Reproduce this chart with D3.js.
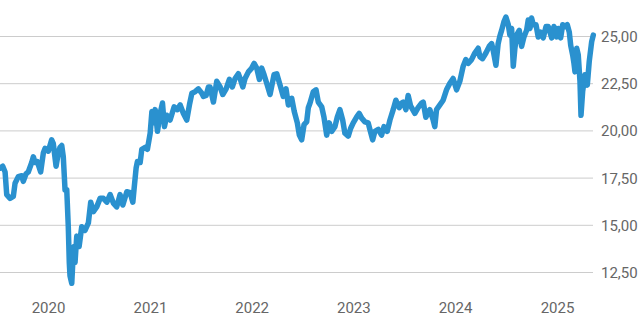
<!DOCTYPE html>
<html>
<head>
<meta charset="utf-8">
<script src="https://cdn.jsdelivr.net/npm/d3@7"></script>
<style>
  html, body { margin: 0; padding: 0; background: #fff; }
  svg { display: block; font-family: Roboto, "Noto Sans", sans-serif; }
</style>
</head>
<body>
<svg id="chart" width="640" height="320"></svg>
<script>
// Time as decimal year, price values
const times = [
  2019.529, 2019.555, 2019.578, 2019.594, 2019.627, 2019.659, 2019.676, 2019.708, 2019.742, 2019.757,
  2019.784, 2019.806, 2019.840, 2019.856, 2019.872, 2019.895, 2019.928, 2019.954, 2019.971, 2020.003,
  2020.036, 2020.052, 2020.079, 2020.101, 2020.118, 2020.135, 2020.150, 2020.167, 2020.184, 2020.199,
  2020.209, 2020.216, 2020.233, 2020.243, 2020.255, 2020.265, 2020.282, 2020.305, 2020.331, 2020.363,
  2020.396, 2020.419, 2020.445, 2020.478, 2020.511, 2020.543, 2020.577, 2020.609, 2020.641, 2020.674,
  2020.707, 2020.734, 2020.773, 2020.806, 2020.832, 2020.845, 2020.864, 2020.877, 2020.904, 2020.920,
  2020.953, 2020.975, 2021.002, 2021.019, 2021.034, 2021.051, 2021.074, 2021.100, 2021.123, 2021.142,
  2021.166, 2021.198, 2021.238, 2021.270, 2021.297, 2021.329, 2021.362, 2021.388, 2021.412, 2021.444,
  2021.476, 2021.510, 2021.526, 2021.552, 2021.575, 2021.591, 2021.624, 2021.657, 2021.690, 2021.716,
  2021.749, 2021.781, 2021.810, 2021.837, 2021.869, 2021.886, 2021.913, 2021.935, 2021.968, 2022.001,
  2022.024, 2022.050, 2022.076, 2022.099, 2022.122, 2022.148, 2022.181, 2022.220, 2022.247, 2022.279,
  2022.311, 2022.338, 2022.361, 2022.394, 2022.419, 2022.449, 2022.469, 2022.492, 2022.515, 2022.541,
  2022.557, 2022.574, 2022.606, 2022.633, 2022.655, 2022.689, 2022.711, 2022.738, 2022.763, 2022.787,
  2022.819, 2022.842, 2022.868, 2022.895, 2022.917, 2022.950, 2022.973, 2022.999, 2023.032, 2023.058,
  2023.082, 2023.114, 2023.146, 2023.163, 2023.190, 2023.212, 2023.245, 2023.278, 2023.301, 2023.333,
  2023.360, 2023.392, 2023.418, 2023.451, 2023.474, 2023.490, 2023.517, 2023.539, 2023.563, 2023.605,
  2023.637, 2023.671, 2023.687, 2023.713, 2023.752, 2023.785, 2023.801, 2023.818, 2023.851, 2023.883,
  2023.916, 2023.949, 2023.981, 2024.015, 2024.047, 2024.080, 2024.106, 2024.129, 2024.162, 2024.194,
  2024.227, 2024.244, 2024.270, 2024.303, 2024.335, 2024.359, 2024.374, 2024.401, 2024.423, 2024.440,
  2024.457, 2024.479, 2024.499, 2024.522, 2024.538, 2024.555, 2024.571, 2024.587, 2024.604, 2024.630,
  2024.653, 2024.676, 2024.702, 2024.718, 2024.735, 2024.751, 2024.767, 2024.794, 2024.816, 2024.840,
  2024.865, 2024.892, 2024.914, 2024.948, 2024.970, 2024.997, 2025.013, 2025.036, 2025.056, 2025.079,
  2025.101, 2025.121, 2025.135, 2025.154, 2025.167, 2025.177, 2025.194, 2025.209, 2025.226, 2025.236,
  2025.252, 2025.275, 2025.298, 2025.317, 2025.341, 2025.357
];
const prices = [
  18.0, 18.1, 17.8, 16.6, 16.4, 16.5, 17.2, 17.55, 17.6, 17.3,
  17.7, 17.8, 18.3, 18.6, 18.3, 18.35, 17.8, 18.8, 19.05, 18.9,
  19.5, 19.3, 18.1, 18.8, 19.1, 19.2, 18.6, 16.85, 16.85, 14.9,
  12.97, 12.3, 11.9, 13.0, 13.85, 13.0, 14.4, 13.85, 14.9, 14.7,
  15.1, 16.2, 15.7, 15.95, 16.4, 16.4, 16.2, 16.6, 16.15, 15.95,
  16.6, 16.05, 16.75, 16.7, 16.2, 16.95, 18.0, 18.35, 18.3, 19.0,
  19.1, 19.0, 19.85, 21.0, 20.4, 21.1, 19.95, 20.9, 21.45, 20.2,
  20.8, 20.55, 21.25, 21.1, 21.35, 20.9, 20.55, 21.35, 21.97, 22.05,
  22.2, 21.97, 21.8, 21.85, 22.3, 22.3, 21.5, 22.6, 22.3, 21.9,
  22.2, 22.7, 22.3, 22.75, 23.0, 22.75, 22.3, 22.75, 23.1, 23.3,
  23.55, 23.3, 22.7, 23.3, 22.95, 22.5, 21.9, 22.95, 23.0, 22.4,
  21.8, 22.2, 21.35, 21.7, 21.0, 20.4, 19.75, 19.5, 20.3, 20.45,
  21.2, 21.45, 22.05, 22.15, 21.5, 21.25, 20.7, 19.75, 20.4, 19.95,
  20.2, 20.7, 21.1, 20.55, 19.85, 19.7, 20.1, 20.4, 20.7, 20.9,
  20.65, 20.45, 20.4, 20.05, 19.5, 19.95, 20.05, 19.75, 20.2, 19.95,
  20.55, 21.1, 21.6, 21.2, 21.45, 21.5, 21.1, 21.85, 21.3, 20.9,
  21.2, 21.45, 21.5, 20.7, 21.1, 20.55, 20.2, 21.1, 21.35, 21.6,
  22.15, 22.5, 22.75, 22.15, 22.6, 23.4, 23.75, 23.55, 23.75, 24.1,
  24.35, 23.9, 23.8, 24.1, 24.45, 24.6, 24.25, 23.45, 24.6, 25.0,
  25.3, 25.75, 26.0, 25.6, 25.05, 25.4, 23.4, 24.35, 25.05, 25.3,
  24.45, 24.95, 25.3, 25.85, 25.4, 25.95, 25.6, 25.6, 24.95, 25.2,
  24.9, 25.5, 25.5, 24.9, 25.5, 24.95, 25.4, 24.9, 25.6, 25.5,
  25.6, 25.2, 24.5, 24.0, 23.55, 23.1, 24.35, 24.0, 22.6, 20.8,
  22.05, 22.95, 22.4, 23.65, 24.7, 25.05
];
const yTicks = [12.5, 15, 17.5, 20, 22.5, 25];
const xTickYears = [2020, 2021, 2022, 2023, 2024, 2025];

function decToDate(t) {
  const y = Math.floor(t);
  const start = new Date(y, 0, 1).getTime();
  const end = new Date(y + 1, 0, 1).getTime();
  return new Date(start + (t - y) * (end - start));
}
const data = times.map((t, i) => ({ date: decToDate(t), value: prices[i] }));

const svg = d3.select("#chart");
const plotRight = 593;

const x = d3.scaleTime()
  .domain([new Date(2020, 0, 1), new Date(2025, 0, 1)])
  .range([48, 557]);
const y = d3.scaleLinear().domain([12.5, 25]).range([272, 36]);

// Y axis with gridlines
const yAxis = d3.axisRight(y)
  .tickValues(yTicks)
  .tickSize(-plotRight)
  .tickPadding(8)
  .tickFormat(d => d3.format(".2f")(d).replace(".", ","));
const gy = svg.append("g").attr("transform", `translate(${plotRight},0)`).call(yAxis);
gy.select(".domain").remove();
gy.selectAll(".tick line").attr("stroke", "#cccccc").attr("stroke-width", 1);
gy.selectAll(".tick text").attr("fill", "#666").attr("font-size", 15)
  .attr("font-family", "Roboto, sans-serif").attr("dy", "0.36em");

// X axis
const xAxis = d3.axisBottom(x)
  .tickValues(xTickYears.map(yr => new Date(yr, 0, 1)))
  .tickSize(0)
  .tickPadding(8)
  .tickFormat(d3.timeFormat("%Y"));
const gx = svg.append("g").attr("transform", "translate(0,294)").call(xAxis);
gx.select(".domain").remove();
gx.selectAll(".tick text").attr("fill", "#666").attr("font-size", 15)
  .attr("font-family", "Roboto, sans-serif");

// Line
const line = d3.line().x(d => x(d.date)).y(d => y(d.value));
svg.append("path")
  .datum(data)
  .attr("d", line)
  .attr("fill", "none")
  .attr("stroke", "#2a91cf")
  .attr("stroke-width", 5.5)
  .attr("stroke-linejoin", "round")
  .attr("stroke-linecap", "round");
</script>
</body>
</html>
